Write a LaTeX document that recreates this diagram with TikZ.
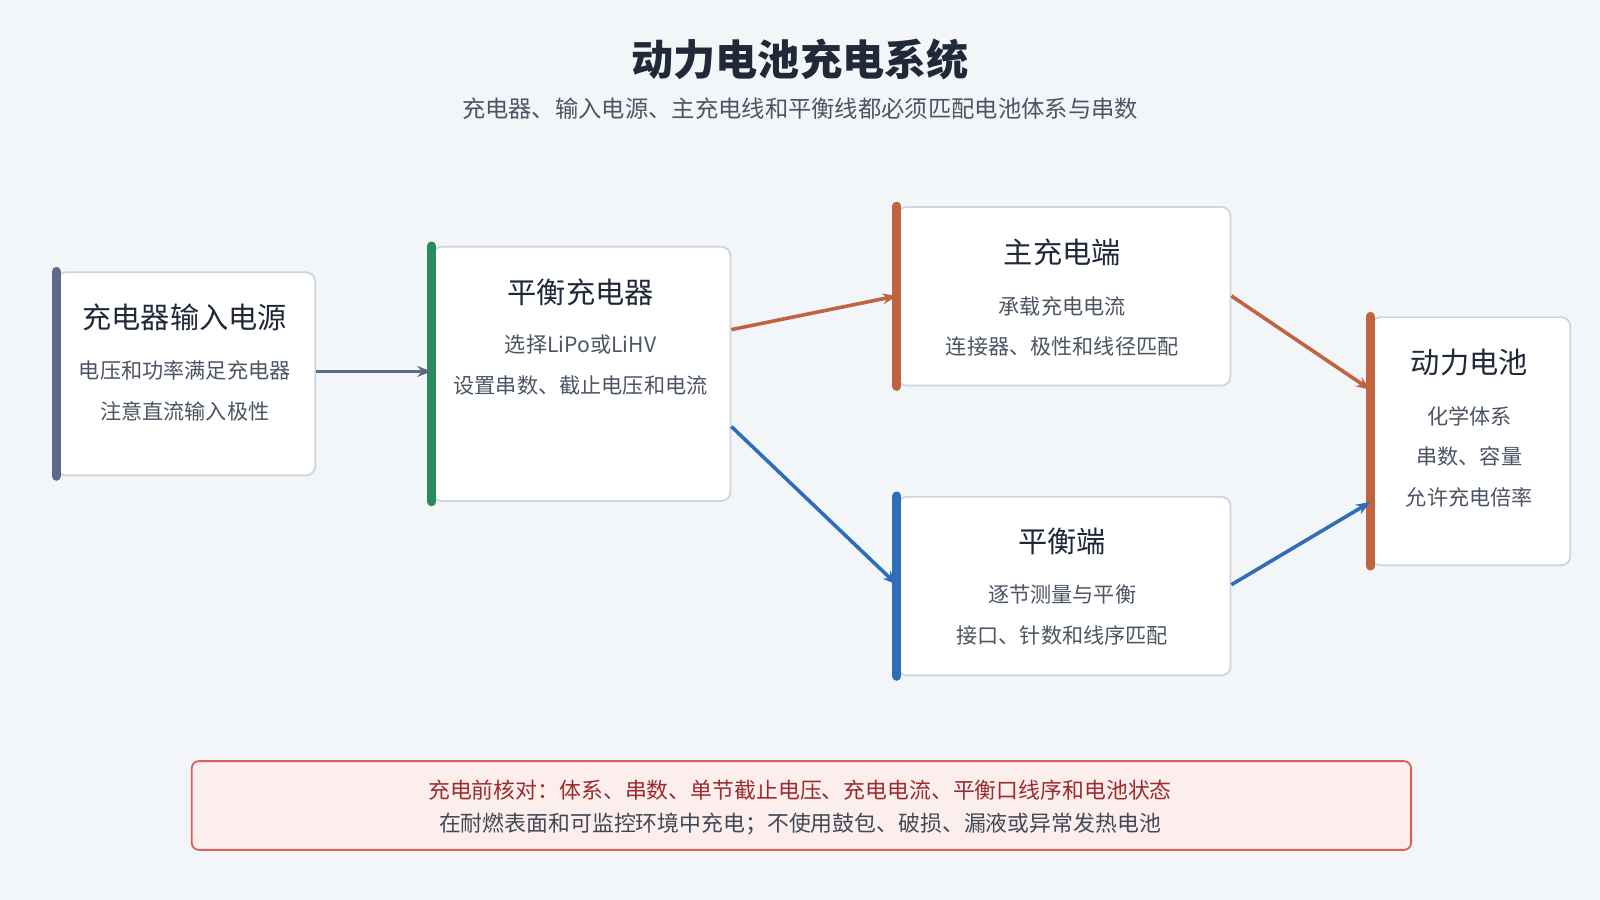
\documentclass[tikz,border=0pt]{standalone}
\usepackage{fontspec}
\setmainfont{Noto Sans CJK SC}
\usetikzlibrary{arrows.meta}
\definecolor{bgc}{HTML}{F3F6F9}
\definecolor{inkc}{HTML}{1F2937}
\definecolor{subc}{HTML}{4B5563}
\definecolor{grayc}{HTML}{5B6A85}
\definecolor{greenc}{HTML}{2A8A5C}
\definecolor{orangec}{HTML}{C0633F}
\definecolor{bluec}{HTML}{2F6DB8}
\definecolor{edgec}{HTML}{CDD5DF}
\definecolor{notec}{HTML}{FDEEEE}
\definecolor{noteb}{HTML}{D9605A}
\definecolor{notet}{HTML}{9B2C2C}
\tikzset{
  box/.style={draw=edgec, line width=1pt, fill=white, rounded corners=5pt, anchor=north west, inner sep=0pt},
  bar/.style={line width=5pt, line cap=round},
  ttl/.style={font=\fontsize{16.3}{18}\selectfont, text=inkc},
  txt/.style={font=\fontsize{11.8}{13}\selectfont, text=subc},
  link/.style={line width=2pt, -{Stealth[length=8pt,width=6pt]}}
}
\begin{document}
\begin{tikzpicture}[x=0.02cm, y=-0.02cm]
\useasboundingbox[fill=bgc] (0,0) rectangle (1568,882);

%title
\node[font=\fontsize{23.5}{26}\selectfont\bfseries, text=inkc] (title) at (784,58) {动力电池充电系统};
\node[font=\fontsize{13}{15}\selectfont, text=subc] (sub) at (784,106) {充电器、输入电源、主充电线和平衡线都必须匹配电池体系与串数};

%boxes
\node[box, minimum width=253*0.02cm, minimum height=199*0.02cm] (src) at (55,266) {};
\node[box, minimum width=292*0.02cm, minimum height=249*0.02cm] (chg) at (423,241) {};
\node[box, minimum width=326*0.02cm, minimum height=175*0.02cm] (main) at (879,202) {};
\node[box, minimum width=326*0.02cm, minimum height=175*0.02cm] (bal) at (879,486) {};
\node[box, minimum width=195*0.02cm, minimum height=243*0.02cm] (bat) at (1343,310) {};

\draw[bar, grayc] (src.north west) -- (src.south west);
\draw[bar, greenc] (chg.north west) -- (chg.south west);
\draw[bar, orangec] (main.north west) -- (main.south west);
\draw[bar, bluec] (bal.north west) -- (bal.south west);
\draw[bar, orangec] (bat.north west) -- (bat.south west);

%texts
\node[ttl] at (181,311) {充电器输入电源};
\node[txt] at (181,363) {电压和功率满足充电器};
\node[txt] at (181,403) {注意直流输入极性};
\node[ttl] at (569,287) {平衡充电器};
\node[txt] at (569,338) {选择LiPo或LiHV};
\node[txt] at (569,378) {设置串数、截止电压和电流};
\node[ttl] at (1041,247) {主充电端};
\node[txt] at (1041,300) {承载充电电流};
\node[txt] at (1041,340) {连接器、极性和线径匹配};
\node[ttl] at (1041,531) {平衡端};
\node[txt] at (1041,583) {逐节测量与平衡};
\node[txt] at (1041,623) {接口、针数和线序匹配};
\node[ttl] at (1440,355) {动力电池};
\node[txt] at (1440,408) {化学体系};
\node[txt] at (1440,447) {串数、容量};
\node[txt] at (1440,487) {允许充电倍率};

%links
\draw[link, grayc] (src.east |- 0,364) -- (chg.west |- 0,364);
\draw[link, orangec] (chg.east |- 0,323) -- (main.west |- 0,290);
\draw[link, bluec] (chg.east |- 0,418) -- (bal.west |- 0,573);
\draw[link, orangec] (main.east |- 0,290) -- (bat.west |- 0,382);
\draw[link, bluec] (bal.east |- 0,573) -- (bat.west |- 0,492);

%note
\node[draw=noteb, fill=notec, line width=1pt, rounded corners=4pt, anchor=north west, minimum width=1195*0.02cm, minimum height=87*0.02cm] (note) at (187,745) {};
\node[txt, text=notet, font=\fontsize{12.2}{14}\selectfont] at (784,774) {充电前核对：体系、串数、单节截止电压、充电电流、平衡口线序和电池状态};
\node[txt, text=inkc!85, font=\fontsize{12.2}{14}\selectfont] at (784,808) {在耐燃表面和可监控环境中充电；不使用鼓包、破损、漏液或异常发热电池};
\end{tikzpicture}
\end{document}
